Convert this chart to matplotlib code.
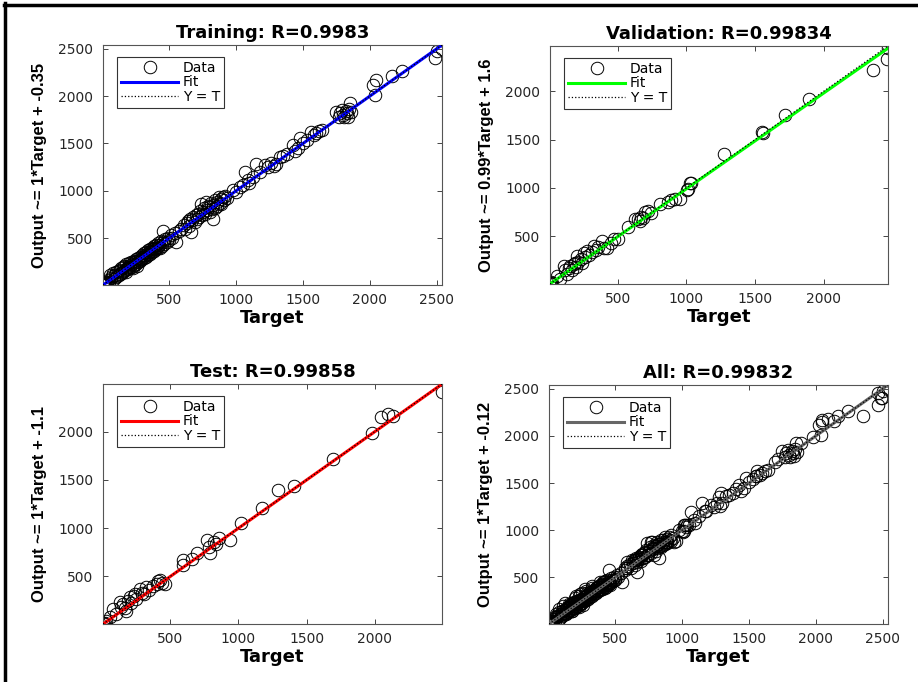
import matplotlib
matplotlib.use('Agg')
import matplotlib.pyplot as plt
from matplotlib.lines import Line2D

plt.rcParams['font.family'] = ['DejaVu Sans']

# ---------------- data ----------------
train_t = [8, 12, 15, 18, 22, 28, 35, 45, 50, 60, 65, 72, 80, 85, 95, 100, 105, 112, 118, 125,
           130, 135, 140, 145, 150, 155, 160, 165, 170, 175, 180, 185, 190, 195, 200, 205, 210, 215, 220, 225,
           230, 235, 240, 245, 250, 255, 260, 265, 270, 275, 280, 285, 290, 295, 300, 305, 310, 315, 320, 325,
           330, 335, 340, 345, 350, 355, 360, 365, 370, 375, 380, 385, 390, 395, 400, 405, 410, 415, 420, 425,
           430, 440, 445, 450, 453, 460, 470, 480, 490, 500, 510, 520, 540, 552, 570, 590,
           610, 620, 630, 640, 650, 655, 665, 670, 680, 690, 700, 705, 715, 720, 730, 740, 745, 755, 760, 770,
           775, 785, 790, 800, 805, 815, 820, 827, 830, 840, 845, 855, 860, 870, 877, 885, 890, 900, 910, 920, 935,
           977, 1000, 1027, 1050, 1064, 1089, 1100, 1130, 1152, 1180, 1214, 1240, 1260, 1280, 1301, 1326, 1350, 1380,
           1426, 1440, 1464, 1476, 1500, 1530, 1564, 1580, 1601, 1620, 1639,
           1751, 1770, 1780, 1790, 1801, 1810, 1820, 1826, 1838, 1845, 1851, 1860,
           2025, 2038, 2050, 2163, 2238, 2488, 2500, 2540]
train_o = [5, 14, 8, 22, 15, 35, 25, 55, 40, 110, 75, 95, 128, 70, 115, 90, 140, 100, 150, 112,
           165, 125, 180, 140, 130, 190, 150, 205, 165, 140, 225, 180, 200, 170, 235, 190, 215, 250, 200, 230,
           185, 260, 220, 245, 275, 230, 210, 290, 250, 270, 305, 255, 280, 320, 275, 300, 340, 290, 320, 355,
           305, 330, 370, 320, 350, 390, 335, 360, 400, 350, 380, 415, 365, 395, 430, 380, 410, 450, 400, 430,
           395, 470, 420, 455, 578, 440, 490, 460, 500, 480, 530, 505, 550, 454, 580, 600,
           640, 600, 655, 680, 630, 700, 560, 690, 720, 670, 740, 700, 760, 720, 790, 862, 740, 780, 820, 760,
           880, 800, 840, 830, 780, 870, 810, 702, 850, 900, 820, 880, 840, 933, 870, 910, 860, 930, 900, 945, 920,
           1004, 990, 1039, 1060, 1198, 1110, 1080, 1150, 1287, 1200, 1270, 1250, 1290, 1260, 1287, 1358, 1370, 1390,
           1482, 1420, 1447, 1553, 1510, 1540, 1624, 1590, 1606, 1630, 1642,
           1837, 1780, 1820, 1850, 1801, 1780, 1840, 1819, 1784, 1860, 1925, 1830,
           2120, 2014, 2174, 2209, 2262, 2404, 2480, 2495]

val_t = [10, 14, 18, 25, 57, 80, 107, 120, 131, 145, 156, 170, 180, 193, 200, 205, 215, 230, 240, 254,
         265, 279, 290, 310, 328, 345, 360, 389, 400, 426, 450, 475, 500, 574, 623, 648, 660, 672, 685, 697,
         721, 740, 807, 869, 890, 918, 955, 1004, 1011, 1024, 1035, 1275, 1552, 1555, 1717, 1889, 2356, 2462, 2467]
val_o = [14, 8, 25, 20, 90, 60, 194, 150, 108, 170, 194, 150, 210, 229, 180, 299, 240, 264, 220, 333,
         290, 351, 310, 340, 403, 360, 390, 455, 380, 385, 430, 472, 472, 594, 681, 681, 660, 698, 690, 750,
         767, 740, 837, 854, 880, 889, 889, 976, 993, 1056, 1050, 1347, 1576, 1570, 1757, 1920, 2215, 2330, 2451]

test_t = [8, 12, 18, 30, 54, 79, 100, 128, 140, 153, 165, 177, 190, 202, 215, 230, 239, 250, 276, 290,
          310, 325, 345, 370, 399, 410, 424, 440, 461, 591, 591, 658, 695, 768, 781, 793, 818, 835, 855, 936,
          1015, 1175, 1291, 1404, 1697, 1980, 2049, 2094, 2135, 2493]
test_o = [13, 6, 20, 35, 75, 162, 110, 232, 180, 215, 170, 145, 240, 284, 220, 300, 319, 260, 371, 330,
          320, 389, 360, 400, 423, 450, 458, 430, 423, 667, 615, 684, 737, 876, 806, 737, 858, 830, 893, 876,
          1050, 1207, 1391, 1440, 1718, 1990, 2146, 2181, 2157, 2407]

all_t = train_t + val_t + test_t
all_o = train_o + val_o + test_o

titles = ['Training: R=0.9983', 'Validation: R=0.99834', 'Test: R=0.99858', 'All: R=0.99832']
fit_slope = [1, 0.99, 1, 1]
fit_intercept = [-0.35, 1.6, -1.1, -0.12]
fit_colors = ['#0000ff', '#00ff00', '#ff0000', '#666666']
tick_values = [500, 1000, 1500, 2000, 2500]
legend_labels = ['Data', 'Fit', 'Y = T']

datasets = [(train_t, train_o), (val_t, val_o), (test_t, test_o), (all_t, all_o)]

W, H = 918, 682
fig = plt.figure(figsize=(W / 100, H / 100), dpi=100)
fig.patch.set_facecolor('white')

# axes boxes in pixels: left, top, right, bottom
boxes = [(103, 45, 442, 285), (550, 46, 888, 284), (103, 384, 442, 624), (549, 385, 888, 624)]

for i, ((t, o), box) in enumerate(zip(datasets, boxes)):
    l, tp, r, b = box
    ax = fig.add_axes([l / W, (H - b) / H, (r - l) / W, (b - tp) / H])
    lo = min(min(t), min(o))
    hi = max(max(t), max(o))
    ax.plot(t, o, 'o', mfc='none', mec='black', ms=9, mew=0.7, label=legend_labels[0], zorder=2)
    m, c = fit_slope[i], fit_intercept[i]
    ax.plot([lo, hi], [m * lo + c, m * hi + c], '-', color=fit_colors[i], lw=2.2,
            label=legend_labels[1], zorder=3)
    ax.plot([lo, hi], [lo, hi], ':', color='black', lw=0.9, label=legend_labels[2], zorder=4)
    ax.set_xlim(lo, hi)
    ax.set_ylim(lo, hi)
    tk = [v for v in tick_values if lo <= v <= hi]
    ax.set_xticks(tk)
    ax.set_yticks(tk)
    ax.tick_params(direction='in', length=3.5, width=0.6, top=True, right=True,
                   labelsize=10, colors='#262626')
    ax.tick_params(axis='y', pad=7)
    ax.tick_params(axis='x', pad=6)
    for s in ax.spines.values():
        s.set_color('#555555')
        s.set_linewidth(0.8)
    ax.set_title(titles[i], fontsize=13, fontweight='bold', pad=5)
    ax.set_xlabel('Target', fontsize=13, fontweight='bold', labelpad=1)
    ax.set_ylabel(f'Output ~= {m:g}*Target + {c:g}', fontsize=12, fontweight='bold',
                  family=['Liberation Sans', 'DejaVu Sans'], labelpad=8)
    leg = ax.legend(loc='upper left', fontsize=10, fancybox=False, framealpha=1,
                    edgecolor='#333333', handlelength=4.1, handletextpad=0.35,
                    labelspacing=0.02, borderpad=0.3, borderaxespad=0,
                    bbox_to_anchor=(14 / (r - l), 1 - 12 / (b - tp)))
    leg.get_frame().set_linewidth(0.8)

# frame edges of the cropped picture (left and top)
fig.add_artist(Line2D([5 / W, 5 / W], [0, 1 - 3 / H], color='black', lw=2.5, transform=fig.transFigure))
fig.add_artist(Line2D([4 / W, 1], [1 - 4.5 / H, 1 - 4.5 / H], color='black', lw=2.5, transform=fig.transFigure))

fig.savefig('out.png', dpi=100, facecolor='white')
